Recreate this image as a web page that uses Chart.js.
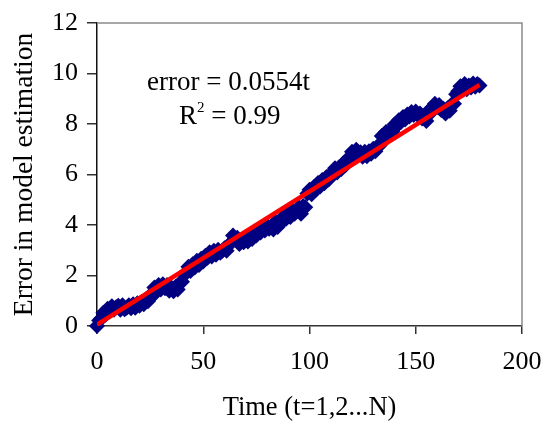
<!DOCTYPE html>
<html>
<head>
<meta charset="utf-8">
<script src="https://cdn.jsdelivr.net/npm/chart.js@4.4.1/dist/chart.umd.min.js"></script>
<style>
  html, body { margin: 0; padding: 0; background: #fff; }
  #wrap { width: 542px; height: 421px; }
</style>
</head>
<body>
<div id="wrap"><canvas id="errChart"></canvas></div>
<script>
// error in model estimation, t = 0..180
var errValues = [
  0.00, 0.22, 0.30, 0.52, 0.45, 0.68, 0.58, 0.78, 0.64, 0.74,
  0.80, 0.64, 0.82, 0.66, 0.72, 0.82, 0.70, 0.86, 0.72, 0.90,
  0.80, 0.95, 0.86, 1.05, 0.98, 1.22, 1.18, 1.52, 1.42, 1.62,
  1.45, 1.65, 1.50, 1.62, 1.40, 1.52, 1.38, 1.55, 1.45, 1.70,
  1.75, 2.05, 2.10, 2.35, 2.18, 2.45, 2.32, 2.58, 2.42, 2.66,
  2.55, 2.78, 2.70, 2.92, 2.75, 2.98, 2.82, 3.02, 2.90, 2.98,
  3.08, 2.98, 3.20, 3.30, 3.58, 3.45, 3.50, 3.25, 3.42, 3.32,
  3.48, 3.35, 3.60, 3.45, 3.70, 3.58, 3.82, 3.70, 3.85, 3.78,
  3.98, 3.85, 3.95, 3.82, 4.12, 3.92, 4.18, 4.12, 4.35, 4.25,
  4.50, 4.32, 4.58, 4.45, 4.55, 4.70, 4.45, 4.75, 4.70, 5.25,
  5.40, 5.22, 5.50, 5.40, 5.66, 5.52, 5.78, 5.65, 5.90, 5.80,
  6.02, 6.05, 6.25, 6.08, 6.30, 6.22, 6.45, 6.38, 6.62, 6.62,
  6.90, 6.80, 6.98, 6.82, 6.88, 6.70, 6.90, 6.72, 6.92, 6.82,
  7.02, 6.92, 7.12, 7.15, 7.52, 7.48, 7.68, 7.52, 7.72, 7.70,
  7.98, 7.92, 8.15, 8.08, 8.28, 8.18, 8.38, 8.30, 8.48, 8.36,
  8.50, 8.35, 8.42, 8.22, 8.30, 8.12, 8.36, 8.60, 8.65, 8.80,
  8.66, 8.75, 8.55, 8.60, 8.42, 8.62, 8.52, 8.78, 8.80, 9.18,
  9.30, 9.50, 9.48, 9.58, 9.38, 9.52, 9.45, 9.60, 9.48, 9.58,
  9.52
];
// fitted trend line as drawn
var trendT = [0, 180];
var trendErr = [0.05, 9.55];

var xTicks = [0, 50, 100, 150, 200];
var yTicks = [0, 2, 4, 6, 8, 10, 12];

var points = errValues.map(function (v, i) { return { x: i, y: v }; });
var trend = trendT.map(function (t, i) { return { x: t, y: trendErr[i] }; });

var serif = 'Liberation Serif, Times New Roman, serif';

// grey frame on top/right + equation text
var framePlugin = {
  id: 'frame',
  beforeDatasetsDraw: function (chart) {
    var ctx = chart.ctx, a = chart.chartArea;
    ctx.save();
    ctx.strokeStyle = '#8a8a8a';
    ctx.lineWidth = 1.5;
    ctx.beginPath();
    ctx.moveTo(a.left, a.top);
    ctx.lineTo(a.right, a.top);
    ctx.lineTo(a.right, a.bottom);
    ctx.stroke();
    ctx.restore();
  },
  afterDatasetsDraw: function (chart) {
    var ctx = chart.ctx, a = chart.chartArea;
    ctx.save();
    ctx.fillStyle = '#000';
    ctx.textBaseline = 'alphabetic';
    ctx.font = '27px ' + serif;
    ctx.fillText('error = 0.0554t', a.left + 50, a.top + 67);
    var x0 = a.left + 82, y0 = a.top + 101;
    ctx.fillText('R', x0, y0);
    var w = ctx.measureText('R').width;
    ctx.font = '15px ' + serif;
    ctx.fillText('2', x0 + w, y0 - 12);
    var w2 = ctx.measureText('2').width;
    ctx.font = '27px ' + serif;
    ctx.fillText(' = 0.99', x0 + w + w2, y0);
    ctx.restore();
  }
};

var ctx = document.getElementById('errChart').getContext('2d');
var errChart = new Chart(ctx, {
  type: 'scatter',
  data: {
    datasets: [{
      label: 'Trend',
      type: 'line',
      data: trend,
      borderColor: '#ff0000',
      borderWidth: 4.5,
      pointRadius: 0,
      order: 0
    }, {
      label: 'Error',
      data: points,
      pointStyle: 'rectRot',
      pointRadius: 8,
      pointHoverRadius: 8,
      backgroundColor: '#000080',
      borderColor: '#000080',
      borderWidth: 0,
      clip: false,
      order: 1
    }]
  },
  options: {
    responsive: true,
    maintainAspectRatio: false,
    animation: false,
    layout: { padding: { left: 0, right: 20, top: 23, bottom: 0 } },
    plugins: {
      legend: { display: false },
      tooltip: { enabled: false }
    },
    scales: {
      x: {
        type: 'linear',
        min: 0,
        max: 200,
        afterBuildTicks: function (s) { s.ticks = xTicks.map(function (v) { return { value: v }; }); },
        afterFit: function (s) { s.height = 95; s.paddingLeft = 0; s.paddingRight = 0; },
        grid: { drawOnChartArea: false, drawTicks: true, tickLength: 8, color: '#333', lineWidth: 1.5 },
        border: { color: '#333', width: 1.5 },
        ticks: { color: '#000', padding: 13, maxRotation: 0, font: { family: serif, size: 26 } },
        title: {
          display: true,
          text: 'Time (t=1,2...N)',
          color: '#000',
          padding: { top: 0, bottom: 0 },
          font: { family: serif, size: 26.5, lineHeight: 1.0 }
        }
      },
      y: {
        type: 'linear',
        min: 0,
        max: 12,
        afterBuildTicks: function (s) { s.ticks = yTicks.map(function (v) { return { value: v }; }); },
        afterFit: function (s) { s.width = 97; s.paddingTop = 0; s.paddingBottom = 0; },
        grid: { drawOnChartArea: false, drawTicks: true, tickLength: 10, color: '#333', lineWidth: 1.5 },
        border: { color: '#111', width: 1.5 },
        ticks: { color: '#000', padding: 9, font: { family: serif, size: 26 } },
        title: {
          display: true,
          text: 'Error in model estimation',
          color: '#000',
          padding: { top: 8, bottom: 0 },
          font: { family: serif, size: 27.5 }
        }
      }
    }
  },
  plugins: [framePlugin]
});
</script>
</body>
</html>
